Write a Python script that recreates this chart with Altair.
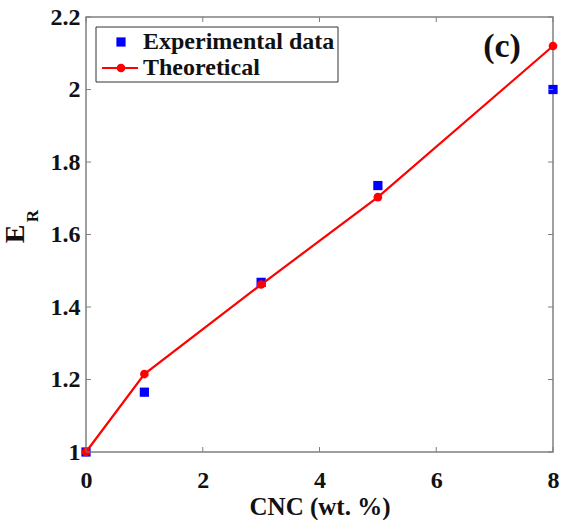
import altair as alt
import pandas as pd

# Data
exp_x = [0, 1, 3, 5, 8]
exp_y = [1.0, 1.165, 1.468, 1.735, 2.0]
theo_x = [0, 1, 3, 5, 8]
theo_y = [1.0, 1.215, 1.462, 1.703, 2.12]
x_ticks = [0, 2, 4, 6, 8]
y_ticks = [1.0, 1.2, 1.4, 1.6, 1.8, 2.0, 2.2]

W, H = 467, 435
FONT = "'Liberation Serif', 'Times New Roman', serif"
TXT = "#111111"
GRID = "#808080"

exp_df = pd.DataFrame({"CNC": exp_x, "ER": exp_y})
theo_df = pd.DataFrame({"CNC": theo_x, "ER": theo_y})
xt_df = pd.DataFrame({"t": x_ticks})
yt_df = pd.DataFrame({"t": y_ticks})

xs = alt.Scale(domain=[0, 8], nice=False, zero=False)
ys = alt.Scale(domain=[1, 2.2], nice=False, zero=False)

x_axis = alt.Axis(values=x_ticks, format="d", grid=False, domain=False, ticks=False,
                  labelFlush=False, labelOverlap=False,
                  labelPadding=16, labelFontSize=24, labelFont=FONT, labelFontWeight="bold",
                  labelColor=TXT, title="CNC (wt. %)", titleFontSize=25, titleFont=FONT,
                  titleFontWeight="bold", titleColor=TXT, titleY=62,
                  titleBaseline="alphabetic")
y_axis = alt.Axis(values=y_ticks, labelExpr="format(datum.value, '.1~f')", grid=False,
                  labelFlush=False, labelOverlap=False,
                  domain=False, ticks=False, labelPadding=6, labelFontSize=24, labelFont=FONT,
                  labelFontWeight="bold", labelColor=TXT, title=None)

base_exp = alt.Chart(exp_df)
exp_pts = base_exp.mark_square(color="#0000FF", size=85, opacity=1).encode(
    x=alt.X("CNC:Q", scale=xs, axis=x_axis),
    y=alt.Y("ER:Q", scale=ys, axis=y_axis),
)

theo_line = alt.Chart(theo_df).mark_line(color="#FF0000", strokeWidth=2.2).encode(
    x=alt.X("CNC:Q", scale=xs), y=alt.Y("ER:Q", scale=ys)
)
theo_pts = alt.Chart(theo_df).mark_circle(color="#FF0000", size=75, opacity=1).encode(
    x=alt.X("CNC:Q", scale=xs), y=alt.Y("ER:Q", scale=ys)
)

# inward ticks on all four sides
tick_style = dict(color=GRID, strokeWidth=1)
bx = alt.Chart(xt_df).mark_rule(**tick_style).encode(
    x=alt.X("t:Q", scale=xs), y=alt.value(H), y2=alt.value(H - 5))
tx = alt.Chart(xt_df).mark_rule(**tick_style).encode(
    x=alt.X("t:Q", scale=xs), y=alt.value(0), y2=alt.value(5))
ly = alt.Chart(yt_df).mark_rule(**tick_style).encode(
    y=alt.Y("t:Q", scale=ys), x=alt.value(0), x2=alt.value(5))
ry = alt.Chart(yt_df).mark_rule(**tick_style).encode(
    y=alt.Y("t:Q", scale=ys), x=alt.value(W), x2=alt.value(W - 5))

# Y title E_R
e_txt = alt.Chart(pd.DataFrame({"s": ["E"]})).mark_text(
    font=FONT, fontSize=28, fontWeight="bold", color=TXT, angle=270,
    align="center", baseline="middle").encode(
    text="s:N", x=alt.value(-70), y=alt.value(217))
r_txt = alt.Chart(pd.DataFrame({"s": ["R"]})).mark_text(
    font=FONT, fontSize=17, fontWeight="bold", color=TXT, angle=270,
    align="center", baseline="middle").encode(
    text="s:N", x=alt.value(-53), y=alt.value(199))

# panel label
c_txt = alt.Chart(pd.DataFrame({"s": ["(c)"]})).mark_text(
    font=FONT, fontSize=34, fontWeight="bold", color=TXT,
    align="center", baseline="middle").encode(
    text="s:N", x=alt.value(416), y=alt.value(30))

# legend
leg_box = alt.Chart(pd.DataFrame({"a": [0]})).mark_rect(
    fill="white", stroke="#333333", strokeWidth=1).encode(
    x=alt.value(10), x2=alt.value(252), y=alt.value(10), y2=alt.value(65))
leg_sq = alt.Chart(pd.DataFrame({"a": [0]})).mark_square(
    color="#0000FF", size=85, opacity=1).encode(x=alt.value(35), y=alt.value(25))
leg_line = alt.Chart(pd.DataFrame({"a": [0]})).mark_rule(
    color="#FF0000", strokeWidth=2.2).encode(x=alt.value(16), x2=alt.value(52), y=alt.value(51))
leg_dot = alt.Chart(pd.DataFrame({"a": [0]})).mark_circle(
    color="#FF0000", size=75, opacity=1).encode(x=alt.value(35), y=alt.value(51))
leg_labels = alt.Chart(pd.DataFrame({"s": ["Experimental data", "Theoretical"],
                                      "yy": [25, 51]})).mark_text(
    font=FONT, fontSize=24, fontWeight="bold", color=TXT, align="left",
    baseline="middle").encode(text="s:N", x=alt.value(57), y=alt.Y("yy:Q", scale=None))

chart = alt.layer(
    exp_pts, theo_line, theo_pts, bx, tx, ly, ry, e_txt, r_txt, c_txt,
    leg_box, leg_sq, leg_line, leg_dot, leg_labels
).properties(
    width=W, height=H,
    autosize=alt.AutoSizeParams(type="none"),
    padding={"left": 86, "top": 17, "right": 13, "bottom": 68},
    background="white",
).configure_view(stroke=GRID, strokeWidth=1.5)

chart.save("out.html", embed_options={"renderer": "svg", "actions": False})
